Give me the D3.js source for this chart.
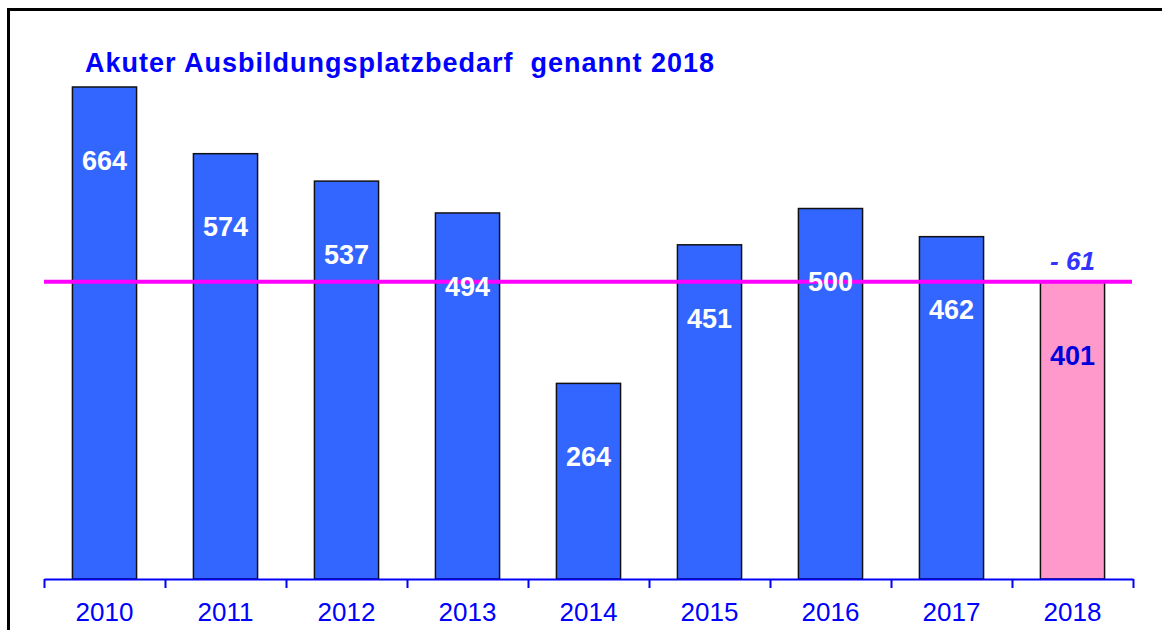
<html>
<head>
    <title>Ausbildungsplatzbedarf</title>
    <script src="https://d3js.org/d3.v7.min.js"></script>
    <style>
        body { margin: 0; background: white; }
        text { font-family: "Liberation Sans", Arial, sans-serif; }
        .title { font-size: 27px; font-weight: bold; fill: #0000ff; letter-spacing: 1px; }
        .val { font-size: 27px; font-weight: bold; }
        .diff { font-size: 26px; font-weight: bold; font-style: italic; fill: #3333ff; }
    </style>
</head>
<body>
<div id="vis"></div>
<script>
    // data
    var years = ["2010", "2011", "2012", "2013", "2014", "2015", "2016", "2017", "2018"];
    var values = [664, 574, 537, 494, 264, 451, 500, 462, 401];
    var highlightYear = "2018";
    var refValue = 401;
    var diffLabel = "- 61";
    var titleText = "Akuter Ausbildungsplatzbedarf  genannt 2018";

    var W = 1162, H = 630;
    var plotLeft = 44, plotRight = 1133, plotBase = 579, plotTop = 87;

    var svg = d3.select("#vis").append("svg")
        .attr("width", W)
        .attr("height", H);

    // frame
    svg.append("rect")
        .attr("x", 8.5).attr("y", 9.5)
        .attr("width", W + 20).attr("height", H + 20)
        .attr("fill", "none")
        .attr("stroke", "#000")
        .attr("stroke-width", 3);

    var x = d3.scaleBand().domain(years).range([plotLeft, plotRight])
        .paddingInner(0.47).paddingOuter(0.235);
    var xb = d3.scaleLinear().domain([0, years.length]).range([plotLeft, plotRight]);
    var y = d3.scaleLinear().domain([0, 664]).range([plotBase, plotTop]);

    // title
    svg.append("text")
        .attr("class", "title")
        .attr("x", 85).attr("y", 72)
        .style("white-space", "pre")
        .text(titleText);

    // bars
    svg.selectAll(".bar")
        .data(values)
        .enter().append("rect")
        .attr("class", "bar")
        .attr("x", function(d, i) { return x(years[i]); })
        .attr("y", function(d) { return y(d); })
        .attr("width", x.bandwidth())
        .attr("height", function(d) { return plotBase - y(d); })
        .attr("fill", function(d, i) { return years[i] == highlightYear ? "#ff99cc" : "#3366ff"; })
        .attr("stroke", "#111")
        .attr("stroke-width", 1.5);

    // reference line
    svg.append("line")
        .attr("x1", plotLeft).attr("x2", plotRight - 1)
        .attr("y1", y(refValue)).attr("y2", y(refValue))
        .attr("stroke", "#ff00ff")
        .attr("stroke-width", 4);

    // bar values
    svg.selectAll(".val")
        .data(values)
        .enter().append("text")
        .attr("class", "val")
        .attr("x", function(d, i) { return x(years[i]) + x.bandwidth() / 2; })
        .attr("y", function(d) { return y(d) + 73; })
        .attr("dy", "0.36em")
        .attr("text-anchor", "middle")
        .attr("fill", function(d, i) { return years[i] == highlightYear ? "#0000dd" : "#fff"; })
        .text(function(d) { return d; });

    // difference label
    svg.append("text")
        .attr("class", "diff")
        .attr("x", x(highlightYear) + x.bandwidth() / 2)
        .attr("y", y(refValue) - 12)
        .attr("text-anchor", "middle")
        .text(diffLabel);

    // axis with ticks between categories
    var tickAxis = svg.append("g")
        .attr("transform", "translate(0," + plotBase + ")")
        .call(d3.axisBottom(xb).tickValues(d3.range(years.length + 1)).tickFormat("").tickSize(9).tickSizeOuter(0));
    tickAxis.selectAll("path, line").attr("stroke", "#0000ff").attr("stroke-width", 2);

    var yearAxis = svg.append("g")
        .attr("transform", "translate(0," + plotBase + ")")
        .call(d3.axisBottom(x).tickSize(0).tickPadding(24));
    yearAxis.select(".domain").remove();
    yearAxis.selectAll("text")
        .attr("fill", "#0000ff")
        .style("font-family", "'Liberation Sans', Arial, sans-serif")
        .style("font-size", "26px");
</script>
</body>
</html>
